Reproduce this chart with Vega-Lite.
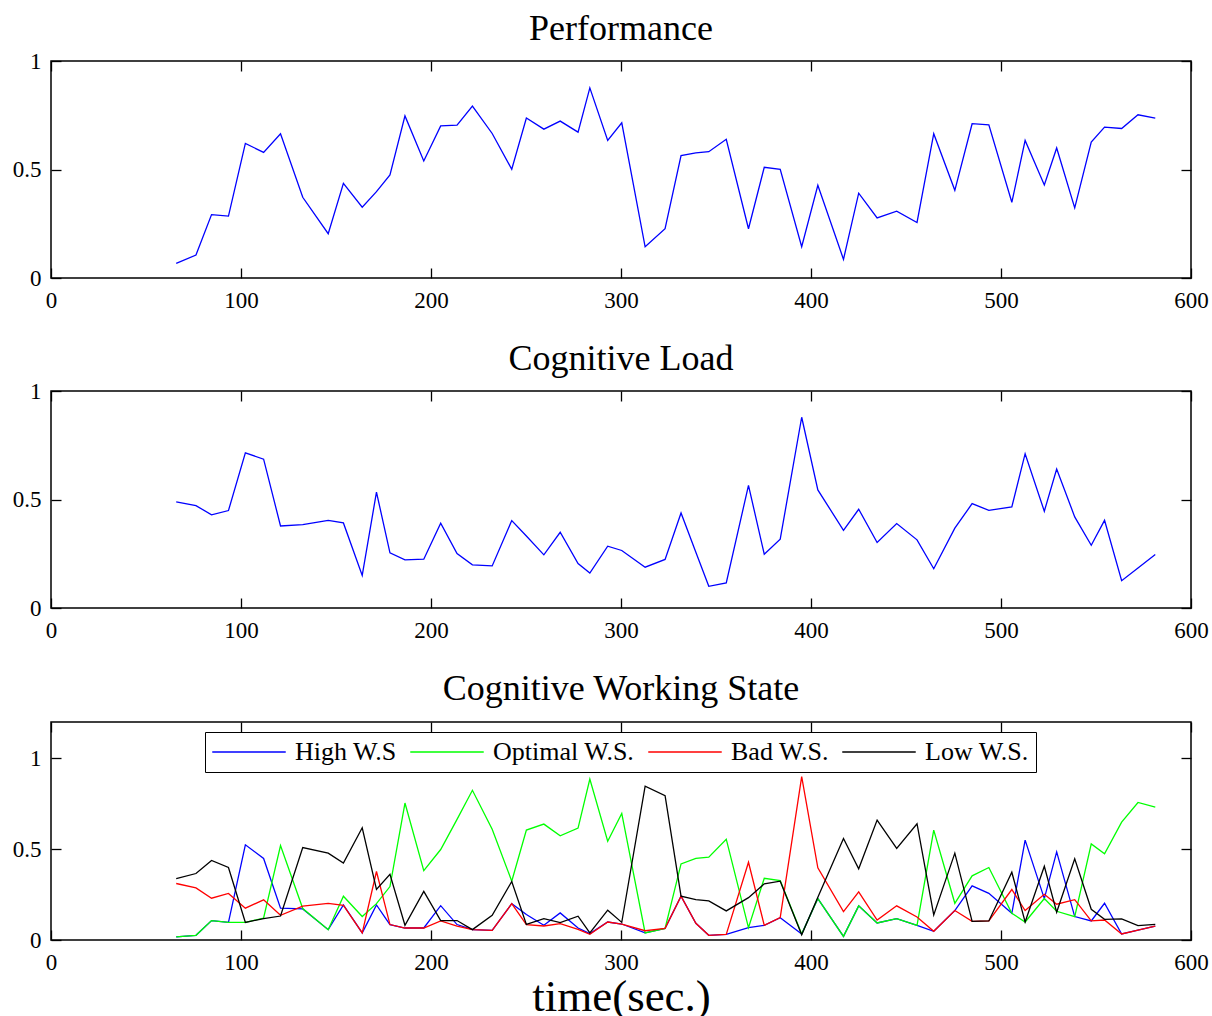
{
  "$schema": "https://vega.github.io/schema/vega-lite/v6.json",
  "padding": {"left": 11, "top": 10, "right": 0, "bottom": 0},
  "spacing": 27,
  "datasets": {
    "series": [
      {"t": 65.9, "perf": 0.067, "load": 0.489, "high": 0.017, "optimal": 0.017, "bad": 0.311, "low": 0.338},
      {"t": 76.3, "perf": 0.106, "load": 0.472, "high": 0.026, "optimal": 0.026, "bad": 0.287, "low": 0.366},
      {"t": 84.5, "perf": 0.292, "load": 0.429, "high": 0.107, "optimal": 0.107, "bad": 0.230, "low": 0.438},
      {"t": 93.4, "perf": 0.285, "load": 0.449, "high": 0.097, "optimal": 0.097, "bad": 0.256, "low": 0.399},
      {"t": 102.3, "perf": 0.620, "load": 0.715, "high": 0.524, "optimal": 0.097, "bad": 0.175, "low": 0.097},
      {"t": 111.9, "perf": 0.579, "load": 0.686, "high": 0.449, "optimal": 0.121, "bad": 0.221, "low": 0.118},
      {"t": 120.8, "perf": 0.665, "load": 0.378, "high": 0.175, "optimal": 0.520, "bad": 0.136, "low": 0.132},
      {"t": 132.5, "perf": 0.372, "load": 0.384, "high": 0.171, "optimal": 0.173, "bad": 0.186, "low": 0.509},
      {"t": 145.9, "perf": 0.204, "load": 0.404, "high": 0.057, "optimal": 0.057, "bad": 0.202, "low": 0.478},
      {"t": 153.9, "perf": 0.436, "load": 0.392, "high": 0.193, "optimal": 0.241, "bad": 0.191, "low": 0.423},
      {"t": 163.8, "perf": 0.326, "load": 0.150, "high": 0.039, "optimal": 0.129, "bad": 0.039, "low": 0.618},
      {"t": 171.3, "perf": 0.398, "load": 0.534, "high": 0.193, "optimal": 0.200, "bad": 0.377, "low": 0.278},
      {"t": 178.4, "perf": 0.475, "load": 0.254, "high": 0.085, "optimal": 0.294, "bad": 0.085, "low": 0.362},
      {"t": 186.3, "perf": 0.747, "load": 0.222, "high": 0.066, "optimal": 0.754, "bad": 0.066, "low": 0.081},
      {"t": 196.2, "perf": 0.539, "load": 0.225, "high": 0.066, "optimal": 0.382, "bad": 0.066, "low": 0.268},
      {"t": 205.1, "perf": 0.701, "load": 0.391, "high": 0.189, "optimal": 0.498, "bad": 0.105, "low": 0.107},
      {"t": 213.7, "perf": 0.704, "load": 0.251, "high": 0.085, "optimal": 0.664, "bad": 0.077, "low": 0.107},
      {"t": 221.8, "perf": 0.792, "load": 0.199, "high": 0.057, "optimal": 0.824, "bad": 0.057, "low": 0.057},
      {"t": 232.2, "perf": 0.666, "load": 0.194, "high": 0.053, "optimal": 0.610, "bad": 0.053, "low": 0.136},
      {"t": 242.5, "perf": 0.501, "load": 0.403, "high": 0.200, "optimal": 0.324, "bad": 0.200, "low": 0.322},
      {"t": 250.2, "perf": 0.737, "load": 0.332, "high": 0.140, "optimal": 0.605, "bad": 0.085, "low": 0.086},
      {"t": 259.4, "perf": 0.686, "load": 0.245, "high": 0.081, "optimal": 0.638, "bad": 0.077, "low": 0.118},
      {"t": 268.0, "perf": 0.723, "load": 0.349, "high": 0.149, "optimal": 0.574, "bad": 0.090, "low": 0.096},
      {"t": 277.4, "perf": 0.672, "load": 0.205, "high": 0.066, "optimal": 0.616, "bad": 0.059, "low": 0.131},
      {"t": 283.6, "perf": 0.876, "load": 0.161, "high": 0.035, "optimal": 0.886, "bad": 0.031, "low": 0.039},
      {"t": 293.0, "perf": 0.634, "load": 0.285, "high": 0.099, "optimal": 0.544, "bad": 0.099, "low": 0.164},
      {"t": 300.4, "perf": 0.715, "load": 0.265, "high": 0.088, "optimal": 0.697, "bad": 0.088, "low": 0.097},
      {"t": 312.7, "perf": 0.144, "load": 0.188, "high": 0.039, "optimal": 0.039, "bad": 0.051, "low": 0.847},
      {"t": 323.2, "perf": 0.227, "load": 0.224, "high": 0.064, "optimal": 0.064, "bad": 0.064, "low": 0.794},
      {"t": 331.6, "perf": 0.564, "load": 0.438, "high": 0.241, "optimal": 0.419, "bad": 0.241, "low": 0.241},
      {"t": 339.4, "perf": 0.577, "load": 0.257, "high": 0.092, "optimal": 0.449, "bad": 0.092, "low": 0.222},
      {"t": 346.2, "perf": 0.582, "load": 0.100, "high": 0.026, "optimal": 0.456, "bad": 0.026, "low": 0.215},
      {"t": 355.4, "perf": 0.639, "load": 0.116, "high": 0.031, "optimal": 0.555, "bad": 0.031, "low": 0.160},
      {"t": 367.1, "perf": 0.227, "load": 0.565, "high": 0.068, "optimal": 0.068, "bad": 0.428, "low": 0.233},
      {"t": 375.4, "perf": 0.510, "load": 0.248, "high": 0.081, "optimal": 0.340, "bad": 0.081, "low": 0.309},
      {"t": 383.8, "perf": 0.501, "load": 0.317, "high": 0.123, "optimal": 0.327, "bad": 0.123, "low": 0.324},
      {"t": 395.1, "perf": 0.144, "load": 0.879, "high": 0.033, "optimal": 0.033, "bad": 0.899, "low": 0.029},
      {"t": 403.6, "perf": 0.427, "load": 0.544, "high": 0.228, "optimal": 0.228, "bad": 0.397, "low": 0.235},
      {"t": 417.1, "perf": 0.086, "load": 0.358, "high": 0.020, "optimal": 0.020, "bad": 0.156, "low": 0.559},
      {"t": 425.1, "perf": 0.391, "load": 0.455, "high": 0.188, "optimal": 0.188, "bad": 0.265, "low": 0.392},
      {"t": 434.8, "perf": 0.277, "load": 0.302, "high": 0.094, "optimal": 0.094, "bad": 0.110, "low": 0.660},
      {"t": 445.1, "perf": 0.308, "load": 0.389, "high": 0.118, "optimal": 0.118, "bad": 0.188, "low": 0.504},
      {"t": 455.8, "perf": 0.256, "load": 0.314, "high": 0.081, "optimal": 0.081, "bad": 0.127, "low": 0.640},
      {"t": 464.6, "perf": 0.665, "load": 0.181, "high": 0.048, "optimal": 0.605, "bad": 0.048, "low": 0.138},
      {"t": 475.7, "perf": 0.404, "load": 0.368, "high": 0.162, "optimal": 0.202, "bad": 0.162, "low": 0.478},
      {"t": 484.8, "perf": 0.711, "load": 0.481, "high": 0.298, "optimal": 0.353, "bad": 0.103, "low": 0.103},
      {"t": 493.6, "perf": 0.706, "load": 0.450, "high": 0.257, "optimal": 0.399, "bad": 0.105, "low": 0.105},
      {"t": 505.7, "perf": 0.349, "load": 0.466, "high": 0.147, "optimal": 0.147, "bad": 0.278, "low": 0.373},
      {"t": 512.7, "perf": 0.634, "load": 0.711, "high": 0.550, "optimal": 0.099, "bad": 0.162, "low": 0.099},
      {"t": 522.8, "perf": 0.429, "load": 0.446, "high": 0.228, "optimal": 0.228, "bad": 0.252, "low": 0.406},
      {"t": 529.3, "perf": 0.599, "load": 0.640, "high": 0.485, "optimal": 0.158, "bad": 0.197, "low": 0.153},
      {"t": 538.8, "perf": 0.323, "load": 0.420, "high": 0.129, "optimal": 0.129, "bad": 0.222, "low": 0.447},
      {"t": 547.5, "perf": 0.626, "load": 0.289, "high": 0.105, "optimal": 0.529, "bad": 0.105, "low": 0.169},
      {"t": 554.5, "perf": 0.695, "load": 0.404, "high": 0.202, "optimal": 0.474, "bad": 0.110, "low": 0.114},
      {"t": 563.5, "perf": 0.689, "load": 0.126, "high": 0.033, "optimal": 0.649, "bad": 0.033, "low": 0.116},
      {"t": 572.1, "perf": 0.752, "load": 0.184, "high": 0.055, "optimal": 0.757, "bad": 0.055, "low": 0.079},
      {"t": 581.2, "perf": 0.737, "load": 0.247, "high": 0.077, "optimal": 0.732, "bad": 0.077, "low": 0.086}
    ]
  },
  "config": {
    "font": "Liberation Serif",
    "view": {"stroke": "black", "strokeWidth": 1.5},
    "axis": {
      "domain": false,
      "grid": false,
      "labelFont": "Liberation Serif",
      "labelFontSize": 23,
      "labelColor": "black",
      "labelFlush": false,
      "tickColor": "black",
      "tickSize": -10,
      "tickWidth": 1.3,
      "title": null
    },
    "axisX": {"labelPadding": 21},
    "axisY": {"labelPadding": 20},
    "title": {"font": "Liberation Serif", "fontSize": 36, "fontWeight": "normal", "color": "black", "offset": 2}
  },
  "vconcat": [
    {
      "title": "Performance",
      "width": 1140,
      "height": 217,
      "data": {"name": "series"},
      "layer": [
        {
          "mark": {"type": "line", "color": "#0000ff", "strokeWidth": 1.3},
          "encoding": {
            "x": {"field": "t", "type": "quantitative", "scale": {"domain": [0, 600], "nice": false}, "axis": {"values": [0, 100, 200, 300, 400, 500, 600], "labelExpr": "datum.value"}},
            "y": {"field": "perf", "type": "quantitative", "scale": {"domain": [0, 1], "nice": false}, "axis": {"values": [0, 0.5, 1], "labelExpr": "datum.value"}}
          }
        },
        {
          "mark": {"type": "point", "opacity": 0},
          "encoding": {
            "x": {"field": "t", "type": "quantitative", "axis": {"orient": "top", "labels": false, "values": [0, 100, 200, 300, 400, 500, 600]}},
            "y": {"field": "perf", "type": "quantitative", "axis": {"orient": "right", "labels": false, "values": [0, 0.5, 1]}}
          }
        }
      ],
      "resolve": {"axis": {"x": "independent", "y": "independent"}}
    },
    {
      "title": "Cognitive Load",
      "width": 1140,
      "height": 217,
      "data": {"name": "series"},
      "layer": [
        {
          "mark": {"type": "line", "color": "#0000ff", "strokeWidth": 1.3},
          "encoding": {
            "x": {"field": "t", "type": "quantitative", "scale": {"domain": [0, 600], "nice": false}, "axis": {"values": [0, 100, 200, 300, 400, 500, 600], "labelExpr": "datum.value"}},
            "y": {"field": "load", "type": "quantitative", "scale": {"domain": [0, 1], "nice": false}, "axis": {"values": [0, 0.5, 1], "labelExpr": "datum.value"}}
          }
        },
        {
          "mark": {"type": "point", "opacity": 0},
          "encoding": {
            "x": {"field": "t", "type": "quantitative", "axis": {"orient": "top", "labels": false, "values": [0, 100, 200, 300, 400, 500, 600]}},
            "y": {"field": "load", "type": "quantitative", "axis": {"orient": "right", "labels": false, "values": [0, 0.5, 1]}}
          }
        }
      ],
      "resolve": {"axis": {"x": "independent", "y": "independent"}}
    },
    {
      "title": {"text": "Cognitive Working State", "offset": 13},
      "width": 1140,
      "height": 218,
      "data": {"name": "series"},
      "transform": [{"fold": ["high", "optimal", "bad", "low"], "as": ["state", "value"]}],
      "layer": [
        {
          "mark": {"type": "line", "strokeWidth": 1.3},
          "encoding": {
            "x": {"field": "t", "type": "quantitative", "scale": {"domain": [0, 600], "nice": false}, "axis": {"values": [0, 100, 200, 300, 400, 500, 600], "labelExpr": "datum.value", "title": "time(sec.)", "titleFont": "Liberation Serif", "titleFontSize": 45, "titleFontWeight": "normal", "titleColor": "black", "titlePadding": 0}},
            "y": {"field": "value", "type": "quantitative", "scale": {"domain": [0, 1.2], "nice": false}, "axis": {"values": [0, 0.5, 1], "labelExpr": "datum.value"}},
            "color": {
              "field": "state",
              "type": "nominal",
              "sort": ["high", "optimal", "bad", "low"],
              "scale": {"domain": ["high", "optimal", "bad", "low"], "range": ["#0000ff", "#00ff00", "#ff0000", "#000000"]},
              "legend": {
                "orient": "none",
                "legendX": 154,
                "legendY": 671,
                "direction": "horizontal",
                "title": null,
                "symbolType": "M-3,0H3",
                "symbolSize": 600,
                "symbolOffset": 24,
                "symbolStrokeWidth": 1.5,
                "symbolFillColor": "transparent",
                "labelFont": "Liberation Serif",
                "labelFontSize": 26,
                "labelColor": "black",
                "labelOffset": 33,
                "columnPadding": 10,
                "padding": 7,
                "strokeColor": "black",
                "fillColor": "white",
                "labelExpr": "datum.label == 'high' ? 'High W.S' : datum.label == 'optimal' ? 'Optimal W.S.' : datum.label == 'bad' ? 'Bad W.S.' : 'Low W.S.'"
              }
            }
          }
        },
        {
          "mark": {"type": "point", "opacity": 0},
          "encoding": {
            "x": {"field": "t", "type": "quantitative", "axis": {"orient": "top", "labels": false, "values": [0, 100, 200, 300, 400, 500, 600]}},
            "y": {"field": "value", "type": "quantitative", "axis": {"orient": "right", "labels": false, "values": [0, 0.5, 1]}}
          }
        }
      ],
      "resolve": {"axis": {"x": "independent", "y": "independent"}}
    }
  ]
}
